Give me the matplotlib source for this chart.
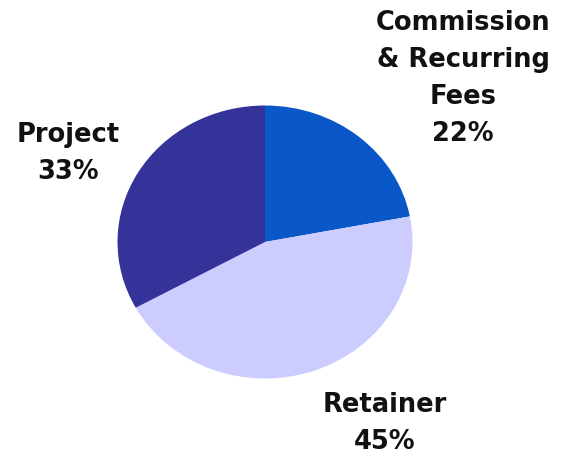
import matplotlib
matplotlib.use("Agg")
import matplotlib.pyplot as plt

# Revenue mix
categories = ["Commission\n& Recurring\nFees", "Retainer", "Project"]
shares = [22, 45, 33]
colors = ["#0A58C8", "#CCCCFF", "#333399"]

W, H = 564, 455
fig = plt.figure(figsize=(W / 100, H / 100), dpi=100)
fig.patch.set_facecolor("white")
ax = fig.add_axes([0, 0, 1, 1])

# pixel-based axes; y is stretched so the pie comes out slightly flattened
rx, ry = 147.5, 136.5
sy = rx / ry
cx, cy = 265, 242

ax.pie(shares, colors=colors, startangle=90, counterclock=False,
       center=(cx, (H - cy) * sy), radius=rx,
       wedgeprops=dict(linewidth=0))
ax.set_aspect("auto")
ax.set_xlim(0, W)
ax.set_ylim(0, H * sy)
ax.axis("off")

# label anchors (centre x, first baseline) in pixels
label_pos = [(463, 30), (385, 412), (68, 142)]
pitch = 37
font = dict(family="DejaVu Sans", fontweight="bold", fontsize=18.5, color="#111111")
for name, val, (lx, ly) in zip(categories, shares, label_pos):
    lines = name.split("\n") + [f"{val}%"]
    for i, line in enumerate(lines):
        fig.text(lx / W, 1 - (ly + i * pitch) / H, line,
                 ha="center", va="baseline", **font)

fig.savefig("out.png", dpi=100, facecolor="white")
